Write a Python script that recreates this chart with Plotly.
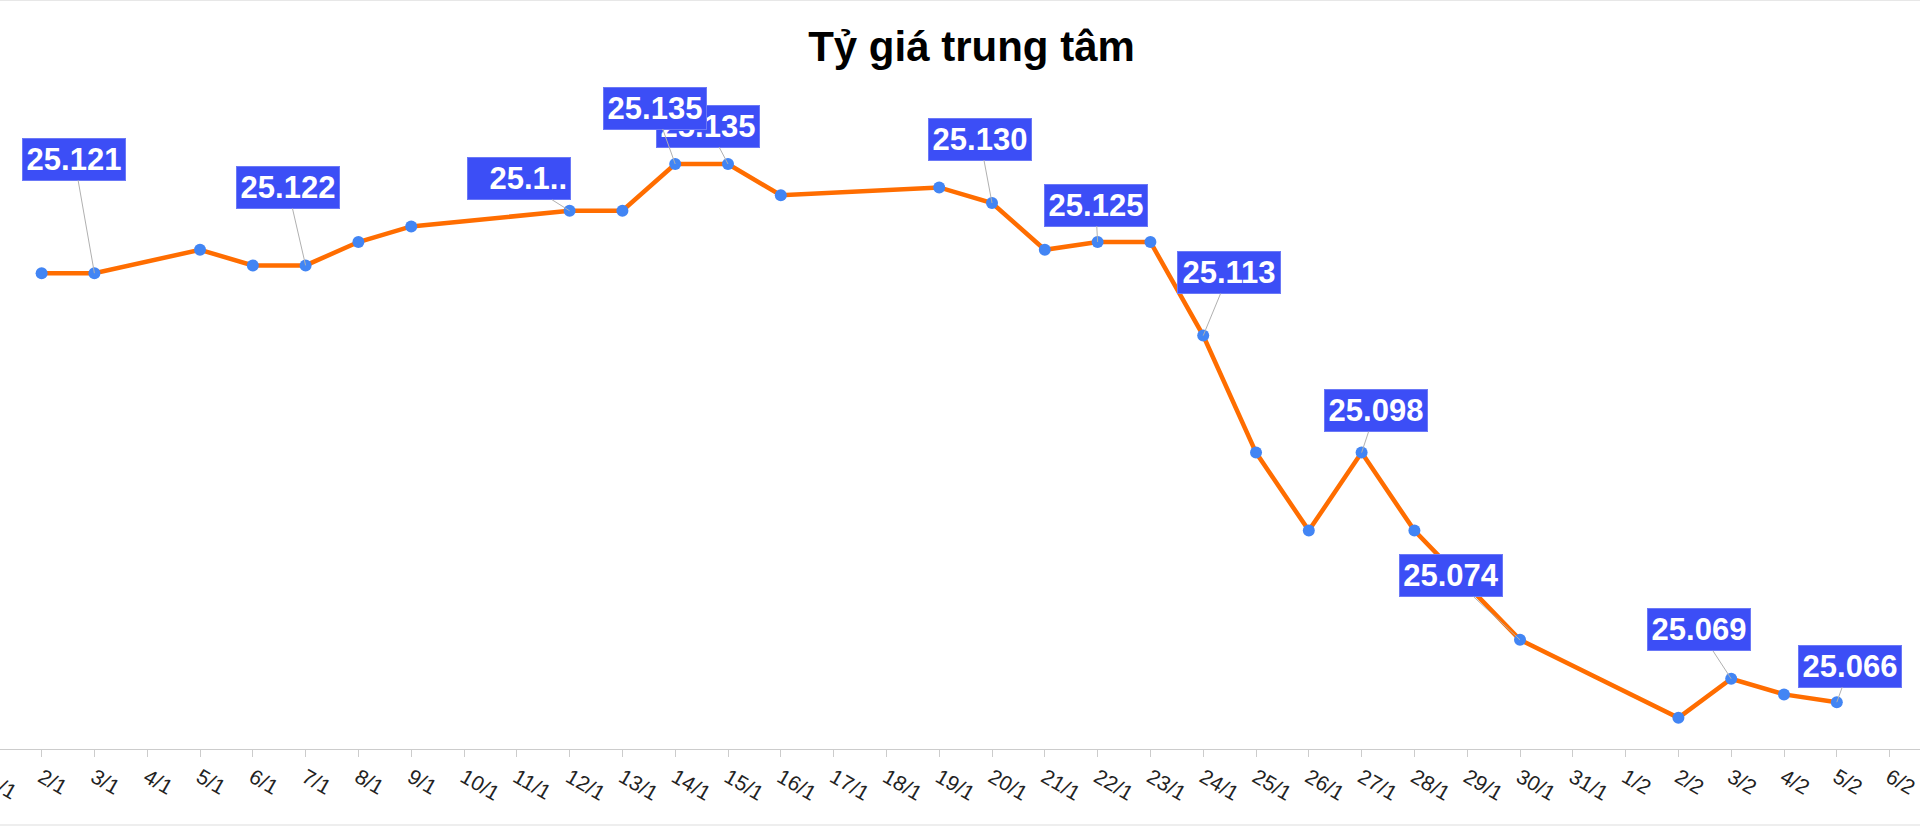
import plotly.graph_objects as go

# ---- data ----
dates = ["2026-01-02", "2026-01-03", "2026-01-05", "2026-01-06", "2026-01-07",
         "2026-01-08", "2026-01-09", "2026-01-12", "2026-01-13", "2026-01-14",
         "2026-01-15", "2026-01-16", "2026-01-19", "2026-01-20", "2026-01-21",
         "2026-01-22", "2026-01-23", "2026-01-24", "2026-01-25", "2026-01-26",
         "2026-01-27", "2026-01-28", "2026-01-30", "2026-02-02", "2026-02-03",
         "2026-02-04", "2026-02-05"]
rates = [25121, 25121, 25124, 25122, 25122,
         25125, 25127, 25129, 25129, 25135,
         25135, 25131, 25132, 25130, 25124,
         25125, 25125, 25113, 25098, 25088,
         25098, 25088, 25074, 25064, 25069,
         25067, 25066]

title_text = "Tỷ giá trung tâm"

# labelled points (drawing order) and their label offsets in pixels
label_dates = ["2026-01-15", "2026-01-14", "2026-01-03", "2026-01-07", "2026-01-12",
               "2026-01-20", "2026-01-22", "2026-01-24", "2026-01-27", "2026-01-30",
               "2026-02-03", "2026-02-05"]
label_ax = [-20, -20, -20, -18, -51, -12, -2, 26, 14, -69, -32, 13]
label_ay = [-38, -56, -114, -78, -32, -64, -37, -63, -42, -64, -49, -36]
truncated = {"2026-01-12": "25.1.."}


def fmt(v):
    return f"{v:,}".replace(",", ".")


fig = go.Figure()
fig.add_trace(go.Scatter(
    x=dates, y=rates, mode="lines+markers",
    line=dict(color="#ff6d00", width=4.5),
    marker=dict(color="#4285f4", size=12),
    hoverinfo="skip", showlegend=False,
))

annotations = []
for d, ax, ay in zip(label_dates, label_ax, label_ay):
    v = rates[dates.index(d)]
    txt = truncated.get(d, fmt(v))
    annotations.append(dict(
        x=d, y=v, xref="x", yref="y", ax=ax, ay=ay,
        text=f"<b>{txt}</b>", showarrow=True, arrowhead=0, arrowwidth=1,
        arrowcolor="#b0b0b0", standoff=0,
        font=dict(family="Arial, Liberation Sans", size=31, color="white"),
        bgcolor="#3c4ef6", bordercolor="#6b79f7", borderwidth=1, borderpad=3,
        width=96, align="right" if d in truncated else "center",
    ))

# partially visible first tick label (1/1), one day left of 2/1
annotations.append(dict(
    x="2026-01-02", xref="x", y=0, yref="paper", xshift=-52.8 + 14, yshift=-37,
    text="1/1", showarrow=False, textangle=30,
    font=dict(family="Arial, Liberation Sans", size=21, color="#222"),
    xanchor="center", yanchor="middle",
))

fig.update_layout(
    width=1920, height=826,
    margin=dict(l=0, r=0, t=125, b=77),
    paper_bgcolor="white", plot_bgcolor="white",
    title=dict(text=f"<b>{title_text}</b>", x=0.506, xanchor="center",
               y=1 - 46 / 826, yanchor="middle",
               font=dict(family="Arial, Liberation Sans", size=42, color="black")),
    xaxis=dict(
        type="date",
        range=["2026-01-01 05:05", "2026-02-06 13:49"],
        tick0="2026-01-01", dtick=86400000, tickformat="%-d/%-m",
        tickangle=30, ticks="outside", ticklen=7, tickcolor="#cccccc",
        tickfont=dict(family="Arial, Liberation Sans", size=21, color="#222"),
        showline=True, linecolor="#cccccc", linewidth=1,
        showgrid=False, zeroline=False,
    ),
    yaxis=dict(range=[25060, 25140], visible=False, showgrid=False, zeroline=False),
    annotations=annotations,
    shapes=[
        dict(type="line", xref="paper", yref="paper", x0=0, x1=1, y0=1.2, y1=1.2,
             line=dict(color="#dddddd", width=1)),
        dict(type="line", xref="paper", yref="paper", x0=0, x1=1, y0=-0.1218, y1=-0.1218,
             line=dict(color="#dddddd", width=1)),
    ],
)

fig.write_html("out.html")
